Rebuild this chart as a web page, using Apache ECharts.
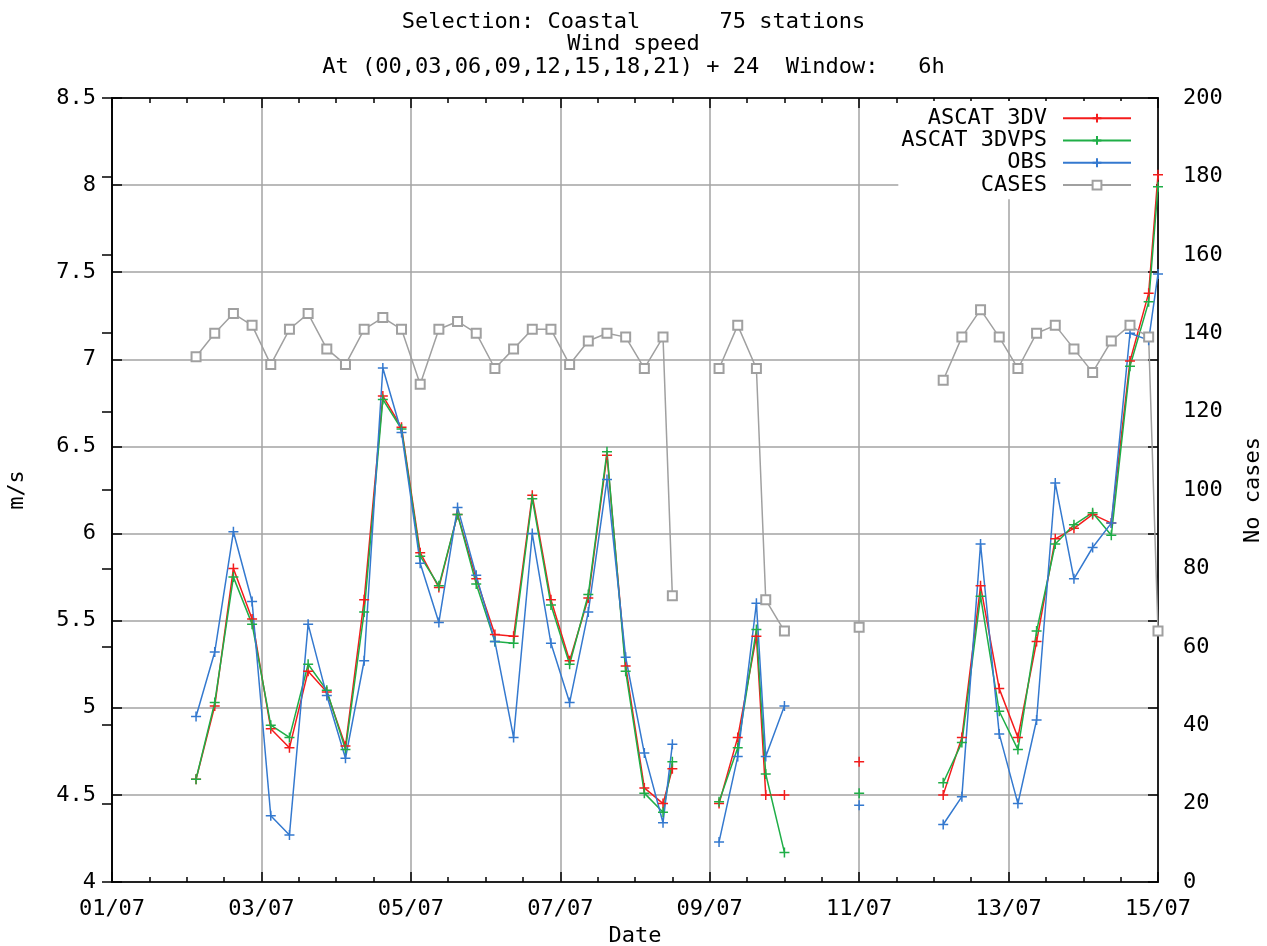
<!DOCTYPE html>
<html>
<head>
<meta charset="utf-8">
<title>Wind speed - Coastal</title>
<script src="https://cdn.jsdelivr.net/npm/echarts@6/dist/echarts.min.js"></script>
<style>
  html, body { margin: 0; padding: 0; background: #fff; }
  #chart { width: 1267px; height: 946px; }
</style>
</head>
<body>
<div id="chart"></div>
<script>
// hours since 01/07 00:00 ; rows with null are gaps in the record
const hours = [27, 33, 39, 45, 51, 57, 63, 69, 75, 81, 87, 93, 99, 105, 111, 117, 123, 129, 135, 141,
  147, 153, 159, 165, 171, 177, 180, 187, 195, 201, 207, 210, 216, 228, 240, 252,
  267, 273, 279, 285, 291, 297, 303, 309, 315, 321, 327, 333, 336];
const ascat3dv = [4.59, 5.01, 5.80, 5.51, 4.88, 4.77, 5.21, 5.09, 4.78, 5.62, 6.79, 6.61, 5.89, 5.69, 6.11, 5.74, 5.42, 5.41, 6.22, 5.62,
  5.27, 5.63, 6.45, 5.24, 4.54, 4.45, 4.65, null, 4.45, 4.83, 5.41, 4.50, 4.50, null, 4.69, null,
  4.50, 4.83, 5.70, 5.11, 4.83, 5.38, 5.97, 6.03, 6.11, 6.06, 6.99, 7.38, 8.06];
const ascat3dvps = [4.59, 5.03, 5.75, 5.48, 4.90, 4.83, 5.25, 5.10, 4.76, 5.55, 6.77, 6.60, 5.87, 5.70, 6.11, 5.71, 5.38, 5.37, 6.20, 5.59,
  5.25, 5.65, 6.47, 5.21, 4.51, 4.40, 4.69, null, 4.46, 4.77, 5.45, 4.62, 4.17, null, 4.51, null,
  4.57, 4.80, 5.64, 4.98, 4.76, 5.44, 5.94, 6.05, 6.12, 5.99, 6.96, 7.33, 7.99];
const obs = [4.95, 5.32, 6.01, 5.61, 4.38, 4.27, 5.48, 5.07, 4.71, 5.27, 6.95, 6.58, 5.83, 5.49, 6.15, 5.76, 5.38, 4.83, 6.00, 5.37,
  5.03, 5.55, 6.31, 5.29, 4.74, 4.34, 4.79, null, 4.23, 4.72, 5.60, 4.72, 5.01, null, 4.44, null,
  4.33, 4.49, 5.94, 4.85, 4.45, 4.93, 6.29, 5.74, 5.92, 6.06, 7.15, 7.11, 7.49];
const cases = [134, 140, 145, 142, 132, 141, 145, 136, 132, 141, 144, 141, 127, 141, 143, 140, 131, 136, 141, 141,
  132, 138, 140, 139, 131, 139, 73, null, 131, 142, 131, 72, 64, null, 65, null,
  128, 139, 146, 139, 131, 140, 142, 136, 130, 138, 142, 139, 64];

const titleLines = [
  "Selection: Coastal      75 stations",
  "Wind speed",
  "At (00,03,06,09,12,15,18,21) + 24  Window:   6h"
];

const font = "DejaVu Sans Mono";
const gridColor = "#a3a3a3";
const cross = "path://M0,5L10,5M5,0L5,10";

// pair the values with the time axis, '-' breaks the line
const pairs = values => hours.map((h, i) => [h, values[i] === null ? "-" : values[i]]);
const dayLabel = v => String(1 + v / 24).padStart(2, "0") + "/07";

const lineSeries = (name, color, values, extra = {}) => ({
  name,
  type: "line",
  z: 3,
  data: pairs(values),
  symbol: cross,
  symbolSize: 10,
  connectNulls: false,
  lineStyle: { color, width: 1.5 },
  itemStyle: { color, borderColor: color, borderWidth: 1.5 },
  emphasis: { disabled: true },
  ...extra
});

const tickStyle = { inside: true, length: 10, lineStyle: { color: "#000", width: 1.5 } };
const minorTick = { show: true, splitNumber: 4, length: 5, lineStyle: { color: "#000", width: 1.5 } };
const axisLine = { show: true, lineStyle: { color: "#000", width: 1.5 } };
const label = { fontFamily: font, fontSize: 22, color: "#000" };

const chart = echarts.init(document.getElementById("chart"));
chart.setOption({
  animation: false,
  backgroundColor: "#fff",
  textStyle: { fontFamily: font },
  title: {
    text: titleLines.join("\n"),
    left: "center",
    top: 6,
    textStyle: { fontFamily: font, fontSize: 22, fontWeight: "normal", color: "#000", lineHeight: 22.5 }
  },
  grid: {
    left: 112,
    right: 109,
    top: 98,
    bottom: 64,
    outerBoundsMode: "none",
    show: true,
    borderColor: "#000",
    borderWidth: 1.5
  },
  legend: {
    // under the curves, over the grid lines
    z: 1,
    orient: "vertical",
    align: "right",
    right: 111,
    top: 101,
    itemWidth: 68,
    itemHeight: 11,
    itemGap: 0,
    padding: [6, 24, 3, 3],
    backgroundColor: "#fff",
    textStyle: { ...label, lineHeight: 22.3, padding: [0, 11, 0, 0] },
    data: ["ASCAT 3DV", "ASCAT 3DVPS", "OBS", "CASES"]
  },
  xAxis: [
    {
      type: "value",
      min: 0,
      max: 336,
      interval: 48,
      name: "Date",
      nameLocation: "middle",
      nameGap: 42,
      nameTextStyle: label,
      axisLine,
      axisTick: tickStyle,
      minorTick,
      axisLabel: { ...label, margin: 16, formatter: dayLabel },
      splitLine: { show: true, lineStyle: { color: gridColor, width: 1.5 } }
    },
    {
      // mirrored ticks on the top border
      type: "value",
      position: "top",
      min: 0,
      max: 336,
      interval: 48,
      axisLine,
      axisTick: tickStyle,
      minorTick,
      axisLabel: { show: false },
      splitLine: { show: false }
    }
  ],
  yAxis: [
    {
      type: "value",
      min: 4,
      max: 8.5,
      interval: 0.5,
      name: "m/s",
      nameLocation: "middle",
      nameGap: 84,
      nameRotate: 90,
      nameTextStyle: label,
      axisLine,
      axisTick: tickStyle,
      axisLabel: { ...label, margin: 16 },
      splitLine: { show: true, lineStyle: { color: gridColor, width: 1.5 } }
    },
    {
      type: "value",
      position: "right",
      min: 0,
      max: 200,
      interval: 20,
      name: "No cases",
      nameLocation: "middle",
      nameGap: 84,
      nameRotate: 90,
      nameTextStyle: label,
      axisLine,
      axisTick: tickStyle,
      axisLabel: { ...label, margin: 25 },
      splitLine: { show: false }
    },
    {
      // left-axis ticks mirrored on the right border
      type: "value",
      position: "right",
      min: 4,
      max: 8.5,
      interval: 0.5,
      axisLine,
      axisTick: tickStyle,
      axisLabel: { show: false },
      splitLine: { show: false }
    }
  ],
  series: [
    lineSeries("ASCAT 3DV", "#f41c1c", ascat3dv),
    lineSeries("ASCAT 3DVPS", "#1fae47", ascat3dvps),
    lineSeries("OBS", "#3479cf", obs),
    lineSeries("CASES", "#a0a0a0", cases, {
      yAxisIndex: 1,
      symbol: "emptyRect",
      symbolSize: 9,
      itemStyle: { color: "#a0a0a0", borderColor: "#a0a0a0", borderWidth: 1.5 }
    })
  ]
});
</script>
</body>
</html>
